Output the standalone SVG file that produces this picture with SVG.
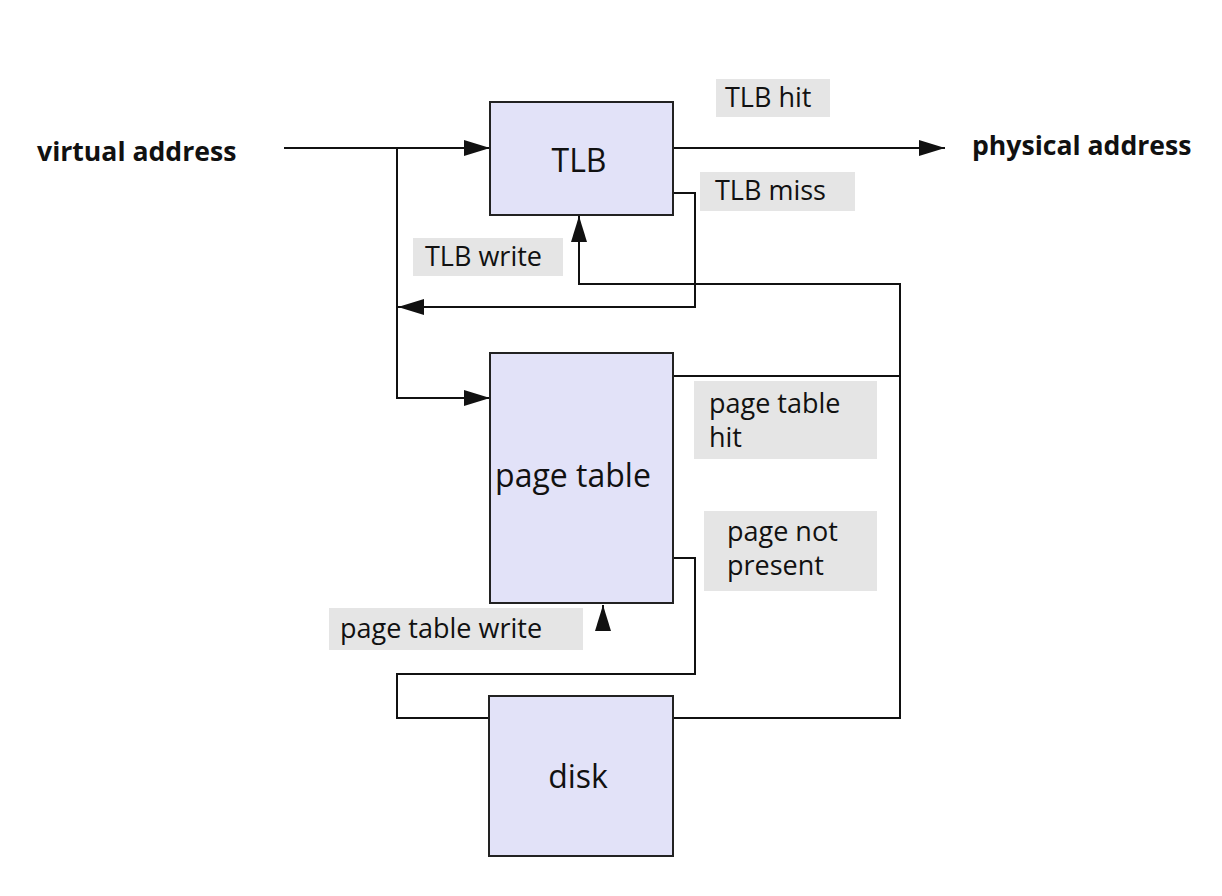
<svg xmlns="http://www.w3.org/2000/svg" width="1222" height="896" viewBox="0 0 1222 896">
  <style>
    .node { fill: #e2e2f8; stroke: #222; stroke-width: 2; }
    .node-text { font-family: "Open Sans", "Liberation Sans", sans-serif; font-size: 32px; fill: #111; text-anchor: middle; }
    .label-bg { fill: #e5e5e5; }
    .label { font-family: "Open Sans", "Liberation Sans", sans-serif; font-size: 27px; fill: #111; }
    .io { font-family: "Open Sans", "Liberation Sans", sans-serif; font-size: 26.6px; font-weight: bold; fill: #111; }
    .wire { fill: none; stroke: #111; stroke-width: 2; }
    .arrow { marker-end: url(#head); }
  </style>
  <defs>
    <marker id="head" viewBox="0 0 26 16" refX="26" refY="8" markerWidth="26" markerHeight="16" markerUnits="userSpaceOnUse" orient="auto">
      <path d="M0,0 L26,8 L0,16 Z" fill="#111"/>
    </marker>
  </defs>

  <rect width="1222" height="896" fill="#fff"/>

  <!-- external endpoints -->
  <g id="virtual-address">
    <text class="io" x="37" y="161">virtual address</text>
  </g>
  <g id="physical-address">
    <text class="io" x="972" y="155">physical address</text>
  </g>

  <!-- connectors -->
  <g id="connectors">
    <path class="wire arrow" d="M284,148 H490"/>
    <path class="wire arrow" d="M397,148 V398 H490"/>
    <path class="wire arrow" d="M673,148 H945"/>
    <path class="wire arrow" d="M673,193 H695 V307 H398"/>
    <path class="wire arrow" d="M673,718 H900 V284 H579 V216"/>
    <path class="wire" d="M673,376 H900"/>
    <path class="wire" d="M673,558 H695 V674 H397 V718 H489"/>
    <path class="wire arrow" d="M603,630 V605"/>
  </g>

  <!-- nodes -->
  <g id="tlb">
    <rect class="node" x="490" y="102" width="183" height="113"/>
    <text class="node-text" x="579" y="172">TLB</text>
  </g>
  <g id="page-table">
    <rect class="node" x="490" y="353" width="183" height="250"/>
    <text class="node-text" x="573" y="487">page table</text>
  </g>
  <g id="disk">
    <rect class="node" x="489" y="696" width="184" height="160"/>
    <text class="node-text" x="578" y="788">disk</text>
  </g>

  <!-- edge labels -->
  <g id="label-tlb-hit">
    <rect class="label-bg" x="716" y="79" width="114" height="38"/>
    <text class="label" x="725" y="107">TLB hit</text>
  </g>
  <g id="label-tlb-miss">
    <rect class="label-bg" x="700" y="172" width="155" height="39"/>
    <text class="label" x="715" y="200">TLB miss</text>
  </g>
  <g id="label-tlb-write">
    <rect class="label-bg" x="413" y="238" width="150" height="38"/>
    <text class="label" x="425" y="266">TLB write</text>
  </g>
  <g id="label-page-table-hit">
    <rect class="label-bg" x="694" y="381" width="183" height="78"/>
    <text class="label" x="709" y="413">page table</text>
    <text class="label" x="709" y="447">hit</text>
  </g>
  <g id="label-page-not-present">
    <rect class="label-bg" x="704" y="511" width="173" height="80"/>
    <text class="label" x="727" y="541">page not</text>
    <text class="label" x="727" y="575">present</text>
  </g>
  <g id="label-page-table-write">
    <rect class="label-bg" x="329" y="608" width="254" height="42"/>
    <text class="label" x="340" y="638">page table write</text>
  </g>
</svg>
